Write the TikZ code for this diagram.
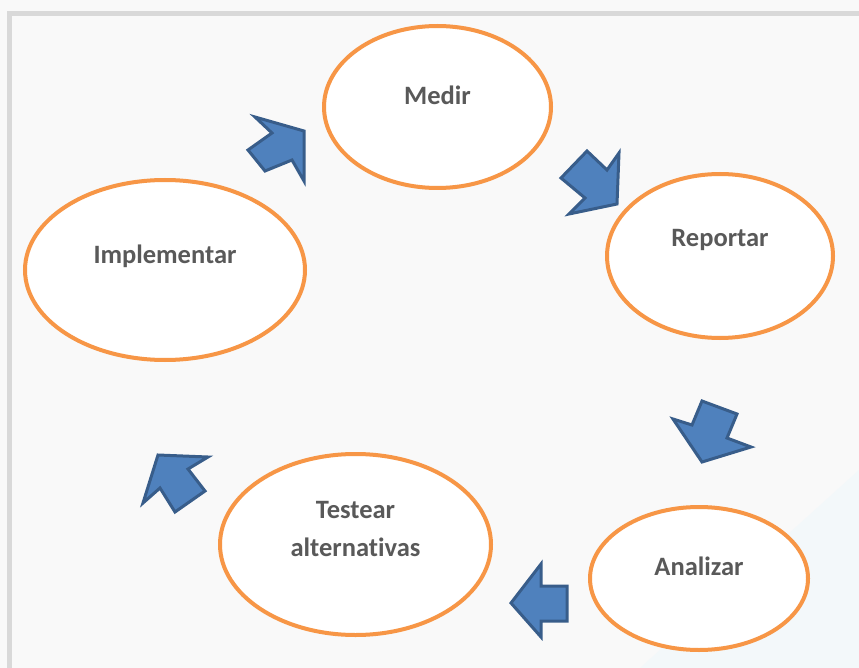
\documentclass[tikz,border=0pt]{standalone}
\usepackage{fontspec}
\setmainfont{Carlito}[Ligatures=NoCommon]
\usetikzlibrary{shapes.geometric}
\definecolor{pagebg}{HTML}{F9F9F9}
\definecolor{framegray}{HTML}{D9D9D9}
\definecolor{ringorange}{HTML}{F79646}
\definecolor{arrowfill}{HTML}{4F81BD}
\definecolor{arrowline}{HTML}{385D8A}
\definecolor{labelgray}{HTML}{595959}
\definecolor{hazecyan}{HTML}{F3F8FA}
\tikzset{
  stage/.style={ellipse, draw=ringorange, line width=4pt, fill=white, inner sep=0pt},
  stagetext/.style={text=labelgray, font={\fontsize{26.5}{38}\selectfont\bfseries}, align=center, inner sep=0pt},
  blockarrow/.style={fill=arrowfill, draw=arrowline, line width=3pt, line join=miter},
}
\begin{document}
\begin{tikzpicture}[x=1pt, y=-1pt]
  \useasboundingbox (0,0) rectangle (859,668);
  \clip (0,0) rectangle (859,668);
  % page background and outer frame
  \fill[pagebg] (0,0) rectangle (859,668);
  \fill[hazecyan] (640,668) -- (859,470) -- (859,668) -- cycle;
  \draw[framegray, line width=5pt] (9,13.5) rectangle (880,690);

  % the five stages of the cycle
  \node[stage, minimum width=227pt, minimum height=162pt] (medir) at (437.5,107) {};
  \node[stage, minimum width=226pt, minimum height=164pt] (reportar) at (720,256) {};
  \node[stage, minimum width=280pt, minimum height=180pt] (implementar) at (165,270) {};
  \node[stage, minimum width=271pt, minimum height=181pt] (testear) at (355.5,544.5) {};
  \node[stage, minimum width=218pt, minimum height=143pt] (analizar) at (699,578.5) {};

  \node[stagetext] (medirT) at (437.5,95) {Medir};
  \node[stagetext] (reportarT) at (720,240) {Reportar};
  \node[stagetext] (implementarT) at (165,256) {Implementar};
  \node[stagetext] (testearT) at (355.5,529) {Testear\\alternativas};
  \node[stagetext] (analizarT) at (699,566) {Analizar};

  % block arrows between the stages
  \draw[blockarrow] (255,117) -- (304,131) -- (304,181) -- (292,160) -- (265,171) -- (248,150) -- (272,133) -- cycle;
  \draw[blockarrow] (587,151) -- (607,170) -- (619,153) -- (617,204) -- (569,214) -- (585,198) -- (561,178) -- cycle;
  \draw[blockarrow] (702,401) -- (737,414) -- (727,438) -- (751,447) -- (702,462) -- (673,419) -- (692,425) -- cycle;
  \draw[blockarrow] (511,603) -- (541,564) -- (541,586) -- (567,586) -- (567,621) -- (541,621) -- (541,637) -- cycle;
  \draw[blockarrow] (158,455) -- (208,457) -- (188,469) -- (205,491) -- (175,512) -- (160,488) -- (143,503) -- cycle;
\end{tikzpicture}
\end{document}
